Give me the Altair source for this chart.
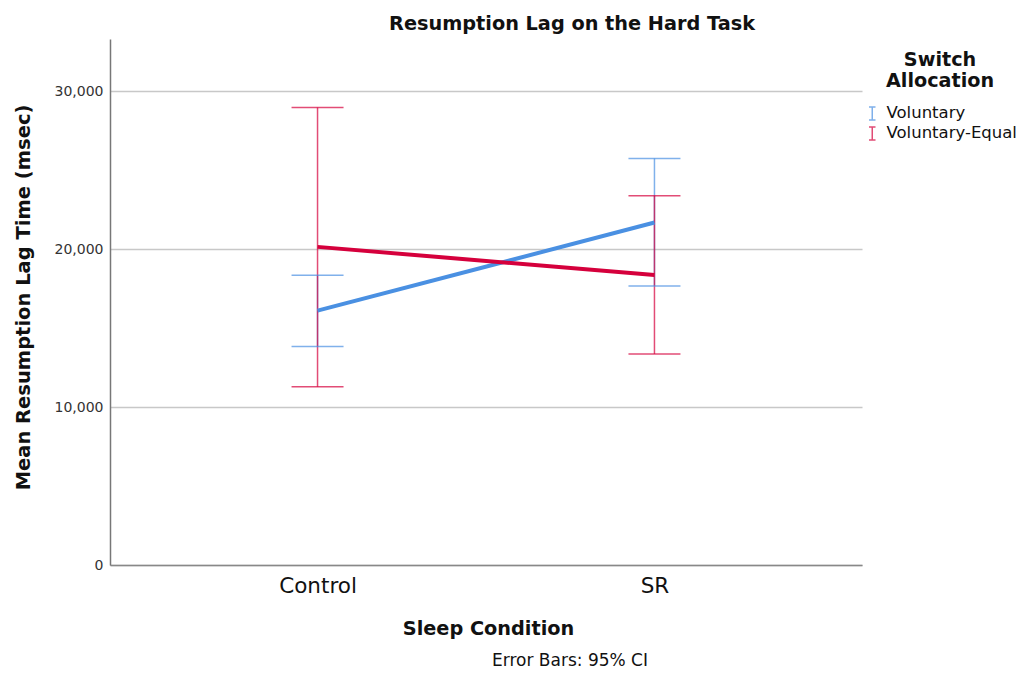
import altair as alt
import pandas as pd

conditions = ["Control", "SR", "Control", "SR"]
groups = ["Voluntary", "Voluntary", "Voluntary-Equal", "Voluntary-Equal"]
means = [16100, 21680, 20140, 18360]
lower = [13830, 17660, 11280, 13360]
upper = [18350, 25740, 28960, 23380]

group_order = ["Voluntary", "Voluntary-Equal"]
group_colors = ["#4a90e2", "#d5003c"]
y_ticks = [0, 10000, 20000, 30000]
FOOTNOTE = "Error Bars: 95% CI"

df = pd.DataFrame({"condition": conditions, "group": groups,
                   "mean": means, "lo": lower, "hi": upper})

FONT = "DejaVu Sans"

xenc = alt.X("condition:N", sort=["Control", "SR"],
             scale=alt.Scale(type="point", padding=0.616),
             axis=alt.Axis(title="Sleep Condition", labelAngle=0, labelFontSize=21.5,
                           labelColor="#111", labelPadding=27, labelBaseline="alphabetic",
                           ticks=False, domainColor="#888", domainWidth=1.5,
                           titleFontSize=19.3, titleFontWeight="bold",
                           titleBaseline="alphabetic", titleY=69, titleX=378,
                           titleColor="#111", grid=False))
yscale = alt.Scale(domain=[0, 33300], nice=False)
yaxis = alt.Axis(title="Mean Resumption Lag Time (msec)", values=y_ticks, format=",.0f",
                 labelFontSize=14, labelColor="#333", labelPadding=7, ticks=False,
                 domainColor="#777", domainWidth=1.5, grid=True, gridColor="#c8c8c8",
                 gridWidth=1.5, titleFontSize=19.5, titleFontWeight="bold",
                 titleColor="#111", titleBaseline="alphabetic", titleX=-81, titleY=258,
                 titleAngle=270)
cenc = alt.Color("group:N", scale=alt.Scale(domain=group_order, range=group_colors),
                 legend=alt.Legend(title=["Switch", "Allocation"], orient="none",
                                   legendX=754, legendY=12, titleFontSize=19.2,
                                   titleFontWeight="bold", titleColor="#111",
                                   titleAnchor="middle", titleAlign="center",
                                   titleLineHeight=21, titleBaseline="top",
                                   labelFontSize=16.5, labelColor="#111",
                                   symbolType="M0,-1L0,1M-0.5,-1L0.5,-1M-0.5,1L0.5,1",
                                   symbolSize=170, symbolStrokeWidth=1.5,
                                   symbolFillColor="transparent", padding=0,
                                   rowPadding=0, titlePadding=14, labelOffset=6))

base = alt.Chart(df)

bars = base.mark_rule(strokeWidth=1.5, opacity=0.7).encode(
    x=xenc, y=alt.Y("lo:Q", scale=yscale, axis=yaxis), y2="hi:Q", color=cenc)
caps_hi = base.mark_tick(size=52, thickness=1.5, opacity=0.7).encode(
    x=xenc, y=alt.Y("hi:Q", scale=yscale, axis=yaxis), color=cenc)
caps_lo = base.mark_tick(size=52, thickness=1.5, opacity=0.7).encode(
    x=xenc, y=alt.Y("lo:Q", scale=yscale, axis=yaxis), color=cenc)
lines = base.mark_line(strokeWidth=4).encode(
    x=xenc, y=alt.Y("mean:Q", scale=yscale, axis=yaxis), color=cenc,
    detail="group:N")

note = alt.Chart(pd.DataFrame({"t": [FOOTNOTE]})).mark_text(
    fontSize=17, font=FONT, color="#111", baseline="alphabetic", align="center"
).encode(text="t:N", x=alt.value(460), y=alt.value(627))

chart = alt.layer(bars, caps_hi, caps_lo, lines, note).properties(
    width=752, height=526,
    autosize=alt.AutoSizeParams(type="none"),
    padding={"left": 102, "top": 31, "right": 161, "bottom": 104},
    title=alt.TitleParams("Resumption Lag on the Hard Task", fontSize=19.3,
                          fontWeight="bold", color="#111", anchor="middle",
                          dx=86, offset=5, font=FONT),
).configure(font=FONT).configure_view(stroke=None).configure_axis(
    labelFont=FONT, titleFont=FONT).configure_legend(labelFont=FONT, titleFont=FONT)

chart.save("out.html", embed_options={"renderer": "svg", "actions": False})
